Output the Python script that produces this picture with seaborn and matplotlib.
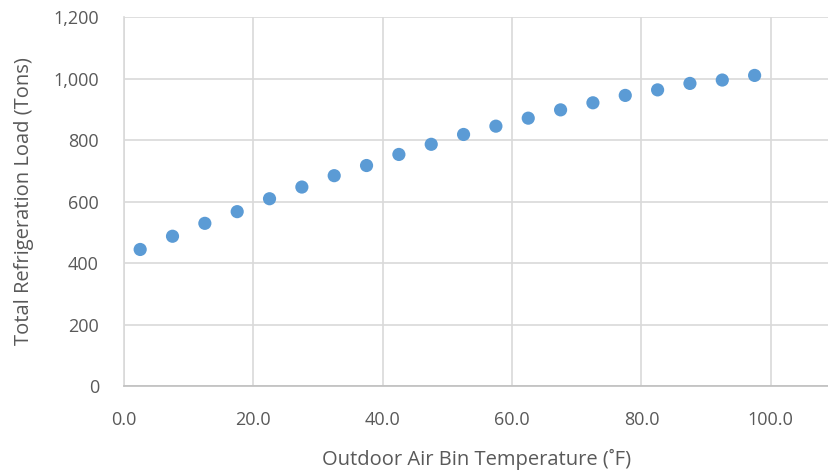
import matplotlib
matplotlib.use("Agg")
import matplotlib.pyplot as plt
import seaborn as sns
import pandas as pd

# Outdoor air bin temperatures (bin midpoints, °F) and total refrigeration load (tons)
bin_temp_f = [2.5, 7.5, 12.5, 17.5, 22.5, 27.5, 32.5, 37.5, 42.5, 47.5,
              52.5, 57.5, 62.5, 67.5, 72.5, 77.5, 82.5, 87.5, 92.5, 97.5]
load_tons = [444, 487, 529, 567, 609, 647, 684, 717, 753, 786,
             818, 845, 871, 898, 921, 945, 963, 984, 995, 1010]

x_ticks = [0, 20, 40, 60, 80, 100]
y_ticks = [0, 200, 400, 600, 800, 1000, 1200]

df = pd.DataFrame({"temp": bin_temp_f, "load": load_tons})

sns.set_theme(style="white")
plt.rcParams["font.family"] = ["Open Sans", "DejaVu Sans"]

text_color = "#595959"
grid_color = "#D9D9D9"

fig = plt.figure(figsize=(8.29, 4.73), dpi=100)
ax = fig.add_axes([124 / 829, 1 - 386 / 473, 1 - 124 / 829, (386 - 17) / 473])

sns.scatterplot(data=df, x="temp", y="load", ax=ax, color="#5B9BD5",
                s=90, edgecolor="none", zorder=3)

ax.set_xlim(0, 109)
ax.set_ylim(0, 1200)
ax.set_xticks(x_ticks)
ax.set_yticks(y_ticks)
ax.set_xticklabels([f"{v:.1f}" for v in x_ticks])
ax.set_yticklabels([f"{v:,}" for v in y_ticks])

ax.grid(True, color=grid_color, linewidth=1.2)
ax.set_axisbelow(True)
for side in ("top", "right"):
    ax.spines[side].set_visible(False)
ax.spines["left"].set_color(grid_color)
ax.spines["left"].set_linewidth(1.2)
ax.spines["bottom"].set_color("#BFBFBF")
ax.spines["bottom"].set_linewidth(1.2)

ax.tick_params(axis="both", length=0, labelsize=13, labelcolor=text_color)
ax.tick_params(axis="x", pad=18)
ax.tick_params(axis="y", pad=18)

ax.set_xlabel("Outdoor Air Bin Temperature (˚F)", fontsize=14.5, color=text_color, labelpad=14)
ax.set_ylabel("Total Refrigeration Load (Tons)", fontsize=14.5, color=text_color, labelpad=14)

fig.savefig("out.png", dpi=100)
